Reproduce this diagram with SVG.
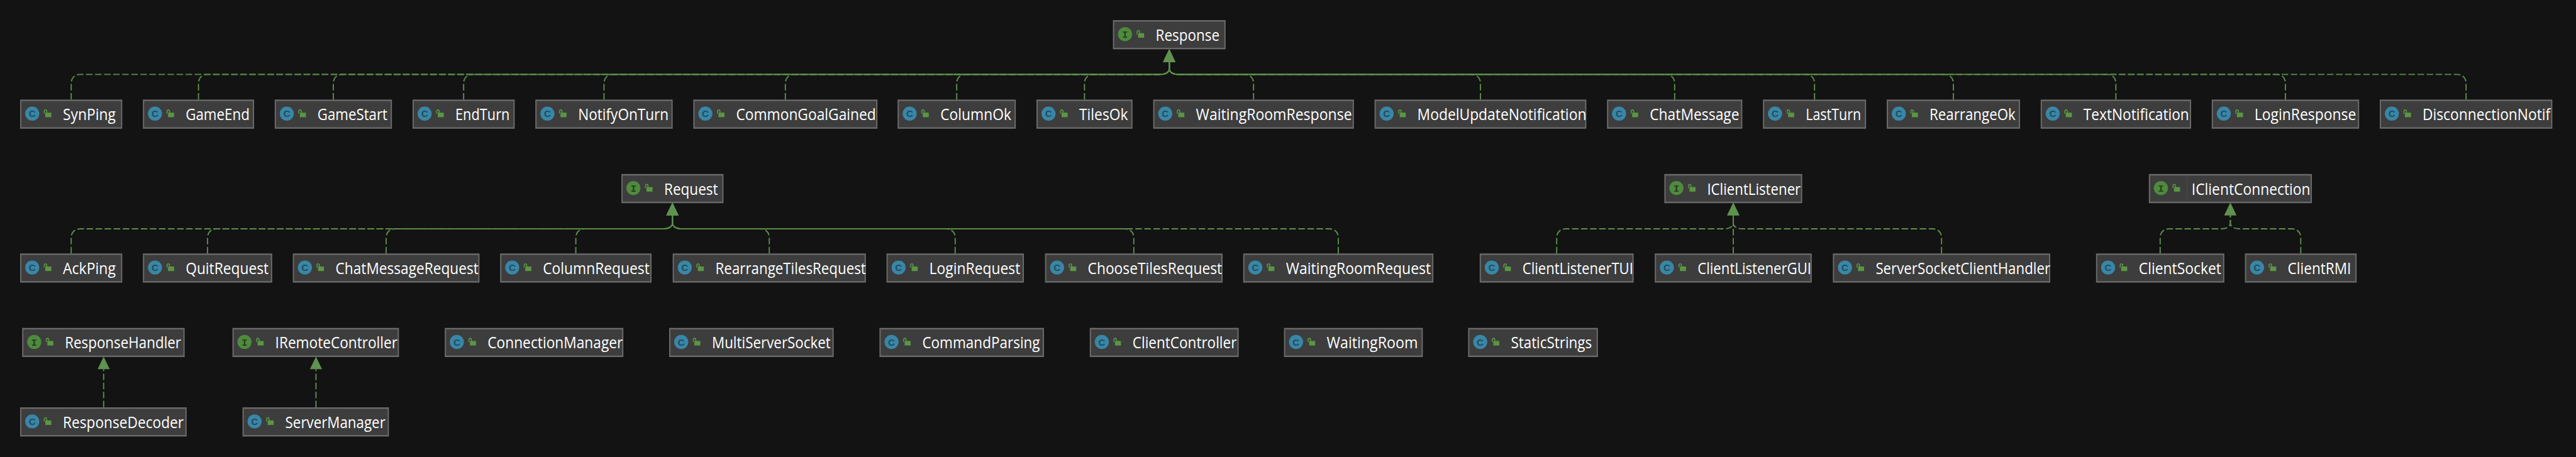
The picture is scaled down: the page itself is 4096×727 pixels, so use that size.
<svg xmlns="http://www.w3.org/2000/svg" width="4096" height="727" viewBox="0 0 4096 727">
<style>
.bg{fill:#131313}
.o{fill:#6a6a6a}
.f{fill:#3d3d3d}
.t{font-family:"Open Sans","Noto Sans","Liberation Sans",sans-serif;font-size:31px;fill:#ffffff}
.e{fill:none;stroke:#5b8f4b;stroke-width:2.400;stroke-dasharray:13 5;marker-end:url(#arrow)}
.ic{fill:#3a86a6}
.ii{fill:#4f8a3d}
.gl{font-weight:bold;text-anchor:middle;font-size:19px}
.glc{font-family:"Liberation Sans",sans-serif;fill:#1f4c60}
.gli{font-family:"Liberation Mono",monospace;fill:#23401c}
.lb{fill:#5a9643}
.ls{fill:none;stroke:#5a9643;stroke-width:2}
.dv{stroke:#4e4e4e;stroke-width:1}
</style>
<defs>
<marker id="arrow" markerUnits="userSpaceOnUse" markerWidth="26" markerHeight="24" refX="0" refY="12" orient="auto" overflow="visible"><polygon points="0,0 25,12 0,24" fill="#5f914f"/></marker>
<g id="lock"><rect class="lb" x="50" y="26" width="12" height="9"/><path class="ls" d="M48 28V24C48 19.500 53 19.500 53 24V26"/></g>
<g id="cls"><circle class="ic" cx="24" cy="28" r="14"/><text class="gl glc" x="24" y="35">C</text><use href="#lock"/></g>
<g id="itf"><circle class="ii" cx="24" cy="28" r="14"/><text class="gl gli" x="24" y="35">I</text><use href="#lock"/></g>
</defs>
<rect class="bg" width="4096" height="727"/>
<g transform="scale(0.8)">
<g id="connectors">
<path class="e" d="M141.500 198V166C141.500 156 147.500 148 159.500 148H2306C2316 148 2324 144 2324 136V123"/>
<path class="e" d="M394.500 198V166C394.500 156 400.500 148 412.500 148H2306C2316 148 2324 144 2324 136V123"/>
<path class="e" d="M662.500 198V166C662.500 156 668.500 148 680.500 148H2306C2316 148 2324 144 2324 136V123"/>
<path class="e" d="M921.500 198V166C921.500 156 927.500 148 939.500 148H2306C2316 148 2324 144 2324 136V123"/>
<path class="e" d="M1200.500 198V166C1200.500 156 1206.500 148 1218.500 148H2306C2316 148 2324 144 2324 136V123"/>
<path class="e" d="M1561 198V166C1561 156 1567 148 1579 148H2306C2316 148 2324 144 2324 136V123"/>
<path class="e" d="M1901.500 198V166C1901.500 156 1907.500 148 1919.500 148H2306C2316 148 2324 144 2324 136V123"/>
<path class="e" d="M2155.500 198V166C2155.500 156 2161.500 148 2173.500 148H2306C2316 148 2324 144 2324 136V123"/>
<path class="e" d="M2491.500 198V166C2491.500 156 2485.500 148 2473.500 148H2342C2332 148 2324 144 2324 136V123"/>
<path class="e" d="M2942.500 198V166C2942.500 156 2936.500 148 2924.500 148H2342C2332 148 2324 144 2324 136V123"/>
<path class="e" d="M3328.500 198V166C3328.500 156 3322.500 148 3310.500 148H2342C2332 148 2324 144 2324 136V123"/>
<path class="e" d="M3606.500 198V166C3606.500 156 3600.500 148 3588.500 148H2342C2332 148 2324 144 2324 136V123"/>
<path class="e" d="M3882.500 198V166C3882.500 156 3876.500 148 3864.500 148H2342C2332 148 2324 144 2324 136V123"/>
<path class="e" d="M4205.500 198V166C4205.500 156 4199.500 148 4187.500 148H2342C2332 148 2324 144 2324 136V123"/>
<path class="e" d="M4542.500 198V166C4542.500 156 4536.500 148 4524.500 148H2342C2332 148 2324 144 2324 136V123"/>
<path class="e" d="M4901.500 198V166C4901.500 156 4895.500 148 4883.500 148H2342C2332 148 2324 144 2324 136V123"/>
<path class="e" d="M141.500 504V473C141.500 463 147.500 455 159.500 455H1318.500C1328.500 455 1336.500 451 1336.500 443V428"/>
<path class="e" d="M412.500 504V473C412.500 463 418.500 455 430.500 455H1318.500C1328.500 455 1336.500 451 1336.500 443V428"/>
<path class="e" d="M767.500 504V473C767.500 463 773.500 455 785.500 455H1318.500C1328.500 455 1336.500 451 1336.500 443V428"/>
<path class="e" d="M1144.500 504V473C1144.500 463 1150.500 455 1162.500 455H1318.500C1328.500 455 1336.500 451 1336.500 443V428"/>
<path class="e" d="M1529 504V473C1529 463 1523 455 1511 455H1354.500C1344.500 455 1336.500 451 1336.500 443V428"/>
<path class="e" d="M1898.500 504V473C1898.500 463 1892.500 455 1880.500 455H1354.500C1344.500 455 1336.500 451 1336.500 443V428"/>
<path class="e" d="M2253.500 504V473C2253.500 463 2247.500 455 2235.500 455H1354.500C1344.500 455 1336.500 451 1336.500 443V428"/>
<path class="e" d="M2660 504V473C2660 463 2654 455 2642 455H1354.500C1344.500 455 1336.500 451 1336.500 443V428"/>
<path class="e" d="M3094 504V473C3094 463 3100 455 3112 455H3427C3437 455 3445 451 3445 443V428"/>
<path class="e" d="M3445 504V428"/>
<path class="e" d="M3859 504V473C3859 463 3853 455 3841 455H3463C3453 455 3445 451 3445 443V428"/>
<path class="e" d="M4293.500 504V473C4293.500 463 4299.500 455 4311.500 455H4415C4425 455 4433 451 4433 443V428"/>
<path class="e" d="M4573 504V473C4573 463 4567 455 4555 455H4451C4441 455 4433 451 4433 443V428"/>
<path class="e" d="M206 810V734"/>
<path class="e" d="M628 810V734"/>
</g>
<g id="n-Response" transform="translate(2212,40)"><rect class="o" width="224" height="58"/><rect class="f" x="2.500" y="3" width="219" height="52"/><use href="#itf"/><text class="t" x="85" y="41" textLength="127" lengthAdjust="spacingAndGlyphs">Response</text></g>
<g id="n-SynPing" transform="translate(40,198)"><rect class="o" width="203" height="58"/><rect class="f" x="2.500" y="3" width="198" height="52"/><use href="#cls"/><text class="t" x="85" y="41" textLength="105" lengthAdjust="spacingAndGlyphs">SynPing</text></g>
<g id="n-GameEnd" transform="translate(284,198)"><rect class="o" width="221" height="58"/><rect class="f" x="2.500" y="3" width="216" height="52"/><use href="#cls"/><text class="t" x="85" y="41" textLength="127" lengthAdjust="spacingAndGlyphs">GameEnd</text></g>
<g id="n-GameStart" transform="translate(546,198)"><rect class="o" width="233" height="58"/><rect class="f" x="2.500" y="3" width="228" height="52"/><use href="#cls"/><text class="t" x="85" y="41" textLength="139" lengthAdjust="spacingAndGlyphs">GameStart</text></g>
<g id="n-EndTurn" transform="translate(820,198)"><rect class="o" width="203" height="58"/><rect class="f" x="2.500" y="3" width="198" height="52"/><use href="#cls"/><text class="t" x="85" y="41" textLength="108" lengthAdjust="spacingAndGlyphs">EndTurn</text></g>
<g id="n-NotifyOnTurn" transform="translate(1064,198)"><rect class="o" width="273" height="58"/><rect class="f" x="2.500" y="3" width="268" height="52"/><use href="#cls"/><text class="t" x="85" y="41" textLength="180" lengthAdjust="spacingAndGlyphs">NotifyOnTurn</text></g>
<g id="n-CommonGoalGained" transform="translate(1378,198)"><rect class="o" width="366" height="58"/><rect class="f" x="2.500" y="3" width="361" height="52"/><use href="#cls"/><text class="t" x="85" y="41" textLength="278" lengthAdjust="spacingAndGlyphs">CommonGoalGained</text></g>
<g id="n-ColumnOk" transform="translate(1784,198)"><rect class="o" width="235" height="58"/><rect class="f" x="2.500" y="3" width="230" height="52"/><use href="#cls"/><text class="t" x="85" y="41" textLength="141" lengthAdjust="spacingAndGlyphs">ColumnOk</text></g>
<g id="n-TilesOk" transform="translate(2060,198)"><rect class="o" width="191" height="58"/><rect class="f" x="2.500" y="3" width="186" height="52"/><use href="#cls"/><text class="t" x="85" y="41" textLength="97" lengthAdjust="spacingAndGlyphs">TilesOk</text></g>
<g id="n-WaitingRoomResponse" transform="translate(2292,198)"><rect class="o" width="399" height="58"/><rect class="f" x="2.500" y="3" width="394" height="52"/><use href="#cls"/><text class="t" x="85" y="41" textLength="310" lengthAdjust="spacingAndGlyphs">WaitingRoomResponse</text></g>
<g id="n-ModelUpdateNotification" transform="translate(2732,198)"><rect class="o" width="421" height="58"/><rect class="f" x="2.500" y="3" width="416" height="52"/><use href="#cls"/><text class="t" x="85" y="41" textLength="336" lengthAdjust="spacingAndGlyphs">ModelUpdateNotification</text></g>
<g id="n-ChatMessage" transform="translate(3194,198)"><rect class="o" width="269" height="58"/><rect class="f" x="2.500" y="3" width="264" height="52"/><use href="#cls"/><text class="t" x="85" y="41" textLength="178" lengthAdjust="spacingAndGlyphs">ChatMessage</text></g>
<g id="n-LastTurn" transform="translate(3504,198)"><rect class="o" width="205" height="58"/><rect class="f" x="2.500" y="3" width="200" height="52"/><use href="#cls"/><text class="t" x="85" y="41" textLength="110" lengthAdjust="spacingAndGlyphs">LastTurn</text></g>
<g id="n-RearrangeOk" transform="translate(3750,198)"><rect class="o" width="265" height="58"/><rect class="f" x="2.500" y="3" width="260" height="52"/><use href="#cls"/><text class="t" x="85" y="41" textLength="171" lengthAdjust="spacingAndGlyphs">RearrangeOk</text></g>
<g id="n-TextNotification" transform="translate(4056,198)"><rect class="o" width="299" height="58"/><rect class="f" x="2.500" y="3" width="294" height="52"/><use href="#cls"/><text class="t" x="85" y="41" textLength="210" lengthAdjust="spacingAndGlyphs">TextNotification</text></g>
<g id="n-LoginResponse" transform="translate(4396,198)"><rect class="o" width="293" height="58"/><rect class="f" x="2.500" y="3" width="288" height="52"/><use href="#cls"/><text class="t" x="85" y="41" textLength="202" lengthAdjust="spacingAndGlyphs">LoginResponse</text></g>
<g id="n-DisconnectionNotif" transform="translate(4730,198)"><rect class="o" width="343" height="58"/><rect class="f" x="2.500" y="3" width="338" height="52"/><use href="#cls"/><text class="t" x="85" y="41" textLength="254" lengthAdjust="spacingAndGlyphs">DisconnectionNotif</text></g>
<g id="n-Request" transform="translate(1235,346)"><rect class="o" width="203" height="58"/><rect class="f" x="2.500" y="3" width="198" height="52"/><use href="#itf"/><text class="t" x="85" y="41" textLength="107" lengthAdjust="spacingAndGlyphs">Request</text></g>
<g id="n-IClientListener" transform="translate(3308,346)"><rect class="o" width="274" height="58"/><rect class="f" x="2.500" y="3" width="269" height="52"/><use href="#itf"/><text class="t" x="85" y="41" textLength="186" lengthAdjust="spacingAndGlyphs">IClientListener</text></g>
<g id="n-IClientConnection" transform="translate(4271,346)"><rect class="o" width="324" height="58"/><rect class="f" x="2.500" y="3" width="319" height="52"/><line class="dv" x1="76" y1="3" x2="76" y2="55"/><use href="#itf"/><text class="t" x="85" y="41" textLength="236" lengthAdjust="spacingAndGlyphs">IClientConnection</text></g>
<g id="n-AckPing" transform="translate(40,504)"><rect class="o" width="203" height="58"/><rect class="f" x="2.500" y="3" width="198" height="52"/><use href="#cls"/><text class="t" x="85" y="41" textLength="105" lengthAdjust="spacingAndGlyphs">AckPing</text></g>
<g id="n-QuitRequest" transform="translate(284,504)"><rect class="o" width="257" height="58"/><rect class="f" x="2.500" y="3" width="252" height="52"/><use href="#cls"/><text class="t" x="85" y="41" textLength="165" lengthAdjust="spacingAndGlyphs">QuitRequest</text></g>
<g id="n-ChatMessageRequest" transform="translate(582,504)"><rect class="o" width="371" height="58"/><rect class="f" x="2.500" y="3" width="366" height="52"/><use href="#cls"/><text class="t" x="85" y="41" textLength="284" lengthAdjust="spacingAndGlyphs">ChatMessageRequest</text></g>
<g id="n-ColumnRequest" transform="translate(994,504)"><rect class="o" width="301" height="58"/><rect class="f" x="2.500" y="3" width="296" height="52"/><use href="#cls"/><text class="t" x="85" y="41" textLength="212" lengthAdjust="spacingAndGlyphs">ColumnRequest</text></g>
<g id="n-RearrangeTilesRequest" transform="translate(1337,504)"><rect class="o" width="384" height="58"/><rect class="f" x="2.500" y="3" width="379" height="52"/><use href="#cls"/><text class="t" x="85" y="41" textLength="299" lengthAdjust="spacingAndGlyphs">RearrangeTilesRequest</text></g>
<g id="n-LoginRequest" transform="translate(1762,504)"><rect class="o" width="273" height="58"/><rect class="f" x="2.500" y="3" width="268" height="52"/><use href="#cls"/><text class="t" x="85" y="41" textLength="181" lengthAdjust="spacingAndGlyphs">LoginRequest</text></g>
<g id="n-ChooseTilesRequest" transform="translate(2077,504)"><rect class="o" width="353" height="58"/><rect class="f" x="2.500" y="3" width="348" height="52"/><use href="#cls"/><text class="t" x="85" y="41" textLength="267" lengthAdjust="spacingAndGlyphs">ChooseTilesRequest</text></g>
<g id="n-WaitingRoomRequest" transform="translate(2471,504)"><rect class="o" width="378" height="58"/><rect class="f" x="2.500" y="3" width="373" height="52"/><use href="#cls"/><text class="t" x="85" y="41" textLength="288" lengthAdjust="spacingAndGlyphs">WaitingRoomRequest</text></g>
<g id="n-ClientListenerTUI" transform="translate(2941,504)"><rect class="o" width="306" height="58"/><rect class="f" x="2.500" y="3" width="301" height="52"/><use href="#cls"/><text class="t" x="85" y="41" textLength="220" lengthAdjust="spacingAndGlyphs">ClientListenerTUI</text></g>
<g id="n-ClientListenerGUI" transform="translate(3289,504)"><rect class="o" width="312" height="58"/><rect class="f" x="2.500" y="3" width="307" height="52"/><use href="#cls"/><text class="t" x="85" y="41" textLength="226" lengthAdjust="spacingAndGlyphs">ClientListenerGUI</text></g>
<g id="n-ServerSocketClientHandler" transform="translate(3643,504)"><rect class="o" width="432" height="58"/><rect class="f" x="2.500" y="3" width="427" height="52"/><use href="#cls"/><text class="t" x="85" y="41" textLength="347" lengthAdjust="spacingAndGlyphs">ServerSocketClientHandler</text></g>
<g id="n-ClientSocket" transform="translate(4166,504)"><rect class="o" width="255" height="58"/><rect class="f" x="2.500" y="3" width="250" height="52"/><use href="#cls"/><text class="t" x="85" y="41" textLength="164" lengthAdjust="spacingAndGlyphs">ClientSocket</text></g>
<g id="n-ClientRMI" transform="translate(4462,504)"><rect class="o" width="222" height="58"/><rect class="f" x="2.500" y="3" width="217" height="52"/><use href="#cls"/><text class="t" x="85" y="41" textLength="126" lengthAdjust="spacingAndGlyphs">ClientRMI</text></g>
<g id="n-ResponseHandler" transform="translate(44,652)"><rect class="o" width="323" height="58"/><rect class="f" x="2.500" y="3" width="318" height="52"/><use href="#itf"/><text class="t" x="85" y="41" textLength="231" lengthAdjust="spacingAndGlyphs">ResponseHandler</text></g>
<g id="n-IRemoteController" transform="translate(462,652)"><rect class="o" width="331" height="58"/><rect class="f" x="2.500" y="3" width="326" height="52"/><use href="#itf"/><text class="t" x="85" y="41" textLength="243" lengthAdjust="spacingAndGlyphs">IRemoteController</text></g>
<g id="n-ConnectionManager" transform="translate(884,652)"><rect class="o" width="355" height="58"/><rect class="f" x="2.500" y="3" width="350" height="52"/><use href="#cls"/><text class="t" x="85" y="41" textLength="269" lengthAdjust="spacingAndGlyphs">ConnectionManager</text></g>
<g id="n-MultiServerSocket" transform="translate(1330,652)"><rect class="o" width="327" height="58"/><rect class="f" x="2.500" y="3" width="322" height="52"/><use href="#cls"/><text class="t" x="85" y="41" textLength="236" lengthAdjust="spacingAndGlyphs">MultiServerSocket</text></g>
<g id="n-CommandParsing" transform="translate(1748,652)"><rect class="o" width="327" height="58"/><rect class="f" x="2.500" y="3" width="322" height="52"/><use href="#cls"/><text class="t" x="85" y="41" textLength="234" lengthAdjust="spacingAndGlyphs">CommandParsing</text></g>
<g id="n-ClientController" transform="translate(2166,652)"><rect class="o" width="296" height="58"/><rect class="f" x="2.500" y="3" width="291" height="52"/><use href="#cls"/><text class="t" x="85" y="41" textLength="207" lengthAdjust="spacingAndGlyphs">ClientController</text></g>
<g id="n-WaitingRoom" transform="translate(2552,652)"><rect class="o" width="276" height="58"/><rect class="f" x="2.500" y="3" width="271" height="52"/><use href="#cls"/><text class="t" x="85" y="41" textLength="181" lengthAdjust="spacingAndGlyphs">WaitingRoom</text></g>
<g id="n-StaticStrings" transform="translate(2918,652)"><rect class="o" width="258" height="58"/><rect class="f" x="2.500" y="3" width="253" height="52"/><use href="#cls"/><text class="t" x="85" y="41" textLength="161" lengthAdjust="spacingAndGlyphs">StaticStrings</text></g>
<g id="n-ResponseDecoder" transform="translate(40,810)"><rect class="o" width="331" height="58"/><rect class="f" x="2.500" y="3" width="326" height="52"/><use href="#cls"/><text class="t" x="85" y="41" textLength="240" lengthAdjust="spacingAndGlyphs">ResponseDecoder</text></g>
<g id="n-ServerManager" transform="translate(482,810)"><rect class="o" width="291" height="58"/><rect class="f" x="2.500" y="3" width="286" height="52"/><use href="#cls"/><text class="t" x="85" y="41" textLength="199" lengthAdjust="spacingAndGlyphs">ServerManager</text></g>
</g>
</svg>
